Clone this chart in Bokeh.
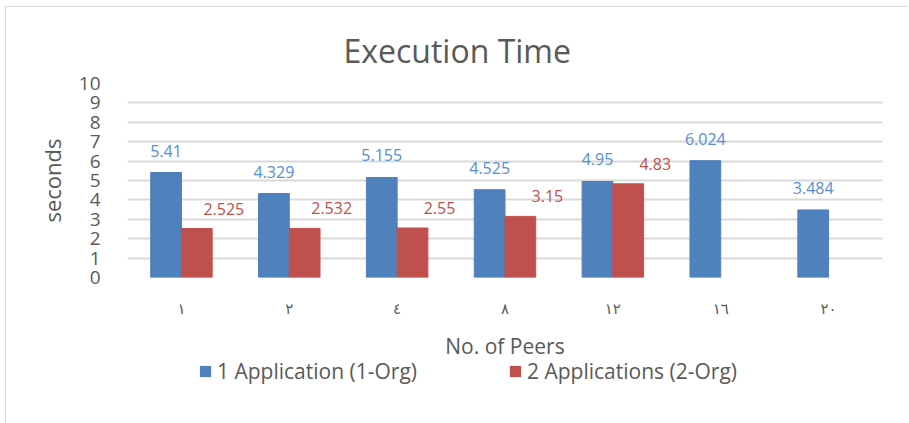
import math
from bokeh.plotting import figure
from bokeh.layouts import column
from bokeh.models import (ColumnDataSource, FactorRange, Range1d, Legend,
                          LegendItem, FixedTicker)
from bokeh.transform import dodge
from bokeh.core.properties import value
from bokeh.embed import file_html
from bokeh.resources import INLINE

# ---- data ----
peers = ["١", "٢", "٤", "٨", "١٢", "١٦", "٢٠"]
one_app = [5.41, 4.329, 5.155, 4.525, 4.95, 6.024, 3.484]
two_apps = [2.525, 2.532, 2.55, 3.15, 4.83, None, None]
y_ticks = [0, 1, 2, 3, 4, 5, 6, 7, 8, 9, 10]
chart_title = "Execution Time"
y_title = "seconds"
x_title = "No. of Peers"
series_names = ["1 Application (1-Org)", "2 Applications (2-Org)"]

# ---- style ----
BLUE = "#4F81BD"
RED = "#C0504D"
BLUE_TXT = "#558ED5"
RED_TXT = "#C0504D"
GREY_TXT = "#595959"
GRID = "#D9D9D9"
FONT = "Open Sans"

src1 = ColumnDataSource(dict(peers=peers, v=one_app, lab=[str(v) for v in one_app]))
p2 = [c for c, v in zip(peers, two_apps) if v is not None]
v2 = [v for v in two_apps if v is not None]
src2 = ColumnDataSource(dict(peers=p2, v=v2, lab=[str(v) for v in v2]))

W = 902
H_MAIN = 355
OVERLAP = 8
H_LEG = 416 - H_MAIN + OVERLAP
p = figure(width=W, height=H_MAIN, x_range=FactorRange(*peers), y_range=Range1d(0, 10),
           output_backend="svg", toolbar_location=None,
           min_border_left=121, min_border_right=26, min_border_top=76,
           min_border_bottom=85)
p.outline_line_color = None
p.background_fill_color = "white"
p.border_fill_color = "white"
p.x_range.range_padding = 0

# title
p.title.text = chart_title
p.title.align = "left"
p.title.offset = 216
p.title.standoff = 23
p.title.text_font = FONT
p.title.text_font_size = "32px"
p.title.text_font_style = "normal"
p.title.text_color = GREY_TXT

BW = 0.285
off = BW / 2
p.vbar(x=dodge("peers", -off, range=p.x_range), top="v", width=BW, bottom=0,
       source=src1, fill_color=BLUE, line_color=BLUE)
p.vbar(x=dodge("peers", off, range=p.x_range), top="v", width=BW, bottom=0,
       source=src2, fill_color=RED, line_color=RED)

p.text(x=dodge("peers", -off, range=p.x_range), y="v", text="lab", source=src1,
       text_font=value(FONT), text_font_size="16px", text_color=BLUE_TXT,
       text_align="center", text_baseline="middle", y_offset=-22)
p.text(x=dodge("peers", off, range=p.x_range), y="v", text="lab", source=src2,
       text_font=value(FONT), text_font_size="16px", text_color=RED_TXT,
       text_align="center", text_baseline="middle", x_offset=27, y_offset=-20)

# y axis
p.yaxis.ticker = FixedTicker(ticks=y_ticks)
p.yaxis.axis_line_color = None
p.yaxis.major_tick_line_color = None
p.yaxis.minor_tick_line_color = None
p.yaxis.major_label_standoff = 21
p.yaxis.major_label_text_font = FONT
p.yaxis.major_label_text_font_size = "19px"
p.yaxis.major_label_text_color = GREY_TXT
p.yaxis.axis_label = y_title
p.yaxis.axis_label_standoff = 9
p.yaxis.axis_label_text_font = FONT
p.yaxis.axis_label_text_font_size = "22px"
p.yaxis.axis_label_text_font_style = "normal"
p.yaxis.axis_label_text_color = GREY_TXT

# x axis
p.xaxis.axis_line_color = None
p.xaxis.major_tick_line_color = None
p.xaxis.minor_tick_line_color = None
p.xaxis.major_label_standoff = 16
p.xaxis.major_label_text_font = "DejaVu Sans"
p.xaxis.major_label_text_font_size = "15px"
p.xaxis.major_label_text_color = GREY_TXT
p.xaxis.axis_label = x_title
p.xaxis.axis_label_standoff = 11
p.xaxis.axis_label_text_font = FONT
p.xaxis.axis_label_text_font_size = "21px"
p.xaxis.axis_label_text_font_style = "normal"
p.xaxis.axis_label_text_color = GREY_TXT

p.xgrid.grid_line_color = None
p.ygrid.grid_line_color = GRID
p.ygrid.grid_line_width = 2

# legend strip below the chart (its swatch renderers draw nothing themselves)
pl = figure(width=W, height=H_LEG, x_range=Range1d(0, 1), y_range=Range1d(0, 1),
            output_backend="svg", toolbar_location=None,
            x_axis_location=None, y_axis_location=None,
            min_border_left=0, min_border_right=0, min_border_top=0, min_border_bottom=0)
pl.outline_line_color = None
pl.grid.grid_line_color = None
pl.background_fill_alpha = 0
pl.border_fill_alpha = 0
lr1 = pl.vbar(x=[0.5], top=[0], bottom=[0], width=0, fill_color=BLUE, line_color=None)
lr2 = pl.vbar(x=[0.5], top=[0], bottom=[0], width=0, fill_color=RED, line_color=None)
legend = Legend(items=[LegendItem(label=series_names[0], renderers=[lr1]),
                       LegendItem(label=series_names[1], renderers=[lr2])],
                orientation="horizontal", location=(71, 38),
                label_text_font=FONT, label_text_font_size="21px",
                label_text_color=GREY_TXT, glyph_width=14, glyph_height=14,
                label_standoff=5, label_width=288, spacing=3, padding=0, margin=0,
                border_line_color=None, background_fill_alpha=0)
pl.add_layout(legend, "center")
pl.styles = {"margin-top": f"-{OVERLAP}px"}

layout = column(p, pl, spacing=0)
layout.styles = {"margin-left": "5px", "margin-top": "6px",
                 "border-left": "1px solid #D9D9D9", "border-top": "1px solid #D9D9D9"}

open("out.html", "w").write(file_html(layout, INLINE))
